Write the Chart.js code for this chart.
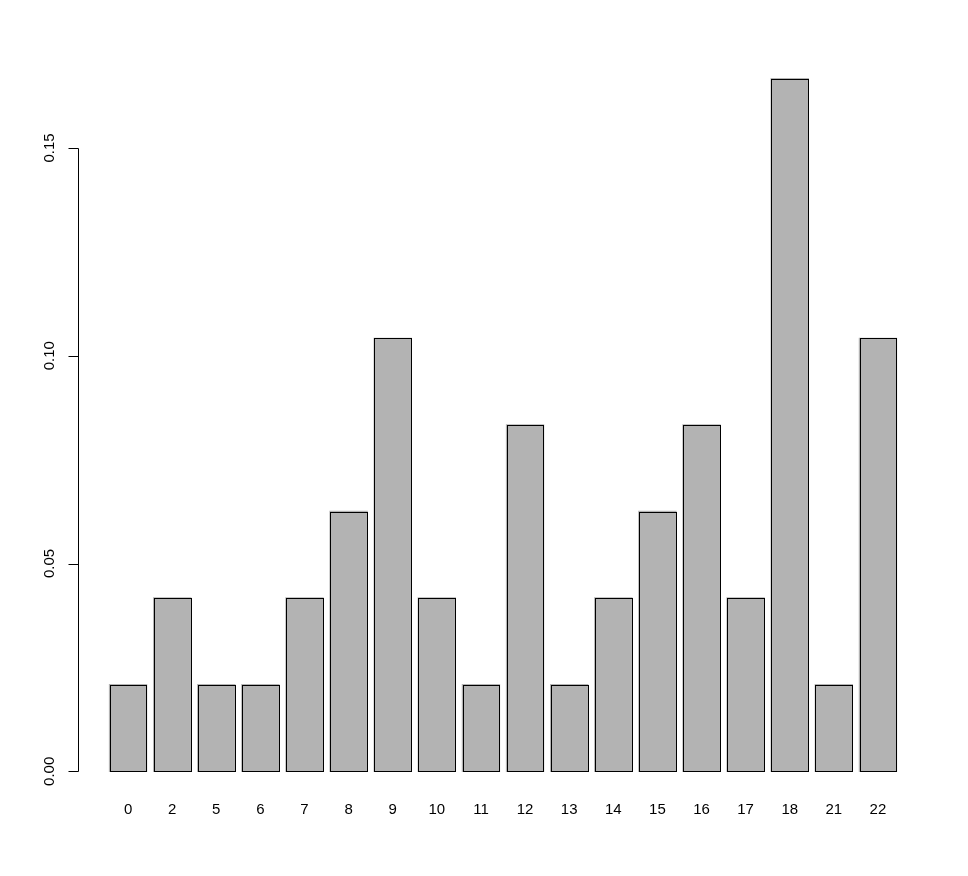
<!DOCTYPE html>
<html>
<head>
<meta charset="utf-8">
<script src="https://cdn.jsdelivr.net/npm/chart.js@4/dist/chart.umd.min.js"></script>
<style>
html,body{margin:0;padding:0;background:#fff;}
canvas{display:block;}
</style>
</head>
<body>
<canvas id="c" width="968" height="876"></canvas>
<script>
const categories = ["0","2","5","6","7","8","9","10","11","12","13","14","15","16","17","18","21","22"];
const counts = [1,2,1,1,2,3,5,2,1,4,1,2,3,4,2,8,1,5];
const total = 48;
const values = counts.map(c => c / total);
const yTicks = [0, 0.05, 0.10, 0.15];
const yTickLabels = ["0.00", "0.05", "0.10", "0.15"];

const FONT = "'Liberation Sans', Arial, Helvetica, sans-serif";

const yAxisPlugin = {
  id: 'rYAxis',
  afterDatasetsDraw(chart) {
    // crisp R-style bar outlines from the library's bar elements
    const ctx = chart.ctx;
    const meta = chart.getDatasetMeta(0);
    ctx.save();
    ctx.strokeStyle = '#000';
    ctx.lineWidth = 1;
    meta.data.forEach(bar => {
      const p = bar.getProps(['x', 'y', 'base', 'width'], true);
      const l = Math.round(p.x - p.width / 2) + 0.5;
      const r = Math.round(p.x + p.width / 2) + 0.5;
      const t = Math.round(p.y) + 0.5;
      const b = Math.round(p.base) + 0.5;
      ctx.strokeRect(l, t, r - l, b - t);
    });
    ctx.restore();
  },
  afterDraw(chart) {
    const ctx = chart.ctx;
    const y = chart.scales.y;
    const axisX = 78.5;
    ctx.save();
    ctx.strokeStyle = '#000';
    ctx.lineWidth = 1;
    ctx.beginPath();
    const y0 = Math.round(y.getPixelForValue(yTicks[0])) + 0.5;
    const y1 = Math.round(y.getPixelForValue(yTicks[yTicks.length - 1])) + 0.5;
    ctx.moveTo(axisX, y0);
    ctx.lineTo(axisX, y1);
    yTicks.forEach(v => {
      const py = Math.round(y.getPixelForValue(v)) + 0.5;
      ctx.moveTo(axisX, py);
      ctx.lineTo(axisX - 10, py);
    });
    ctx.stroke();
    ctx.fillStyle = '#000';
    ctx.font = '15px ' + FONT;
    ctx.textAlign = 'center';
    ctx.textBaseline = 'middle';
    yTicks.forEach((v, i) => {
      const py = y.getPixelForValue(v);
      ctx.save();
      ctx.translate(50, py);
      ctx.rotate(-Math.PI / 2);
      ctx.fillText(yTickLabels[i], 0, 0);
      ctx.restore();
    });
    ctx.restore();
  }
};

new Chart(document.getElementById('c'), {
  type: 'bar',
  data: {
    labels: categories,
    datasets: [{
      data: values,
      backgroundColor: '#b3b3b3',
      borderWidth: 0,
      inflateAmount: 0.8,
      categoryPercentage: 1,
      barPercentage: 1 / 1.2
    }]
  },
  options: {
    responsive: false,
    animation: false,
    devicePixelRatio: 1,
    layout: { padding: { left: 106, right: 68, top: 51, bottom: 0 } },
    plugins: { legend: { display: false }, tooltip: { enabled: false } },
    scales: {
      x: {
        grid: { display: false, drawTicks: false, tickLength: 0 },
        border: { display: false },
        ticks: { color: '#000', font: { family: FONT, size: 15 }, padding: 2, maxRotation: 0, autoSkip: false },
        afterFit(scale) { scale.height = 77; }
      },
      y: {
        display: false,
        min: -0.0066667,
        max: 0.1733333
      }
    }
  },
  plugins: [yAxisPlugin]
});
</script>
</body>
</html>
